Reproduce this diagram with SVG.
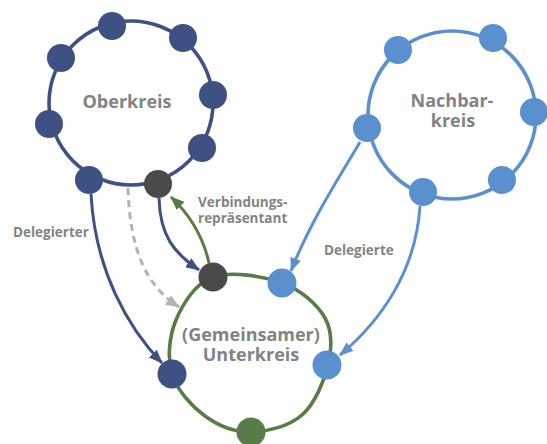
<svg xmlns="http://www.w3.org/2000/svg" width="547" height="444" viewBox="0 0 547 444">
  <style>
    .ring { fill: none; stroke-width: 3.6; stroke-linecap: round; }
    .navy { fill: #3e5183; }
    .dark { fill: #4a4a4a; }
    .light { fill: #5b90cf; }
    .green { fill: #587c48; }
    .title { font-family: "Open Sans", Lato, sans-serif; font-weight: 700; fill: #838383; text-anchor: middle; }
    .label { font-family: "Open Sans", Lato, sans-serif; font-weight: 700; fill: #838383; font-size: 13.5px; }
    .edge { fill: none; stroke-width: 3; }
  </style>
  <defs>
    <marker id="ahNavy" viewBox="0 0 14 11" refX="13" refY="5.5" markerWidth="14" markerHeight="11" markerUnits="userSpaceOnUse" orient="auto">
      <path d="M0,0 L14,5.5 L0,11 Z" fill="#3e5183"/>
    </marker>
    <marker id="ahGreen" viewBox="0 0 14 11" refX="13" refY="5.5" markerWidth="14" markerHeight="11" markerUnits="userSpaceOnUse" orient="auto">
      <path d="M0,0 L14,5.5 L0,11 Z" fill="#587c48"/>
    </marker>
    <marker id="ahLight" viewBox="0 0 14 11" refX="13" refY="5.5" markerWidth="14" markerHeight="11" markerUnits="userSpaceOnUse" orient="auto">
      <path d="M0,0 L14,5.5 L0,11 Z" fill="#5b90cf"/>
    </marker>
    <marker id="ahGray" viewBox="0 0 14 11" refX="13" refY="5.5" markerWidth="14" markerHeight="11" markerUnits="userSpaceOnUse" orient="auto">
      <path d="M0,0 L14,5.5 L0,11 Z" fill="#b3b3b3"/>
    </marker>
  </defs>

  <rect width="547" height="444" fill="#ffffff"/>

  <!-- circle rings -->
  <g id="rings">
    <circle class="ring" cx="131" cy="103" r="82" stroke="#3e5183"/>
    <circle class="ring" cx="452" cy="115" r="84" stroke="#5b90cf"/>
    <path class="ring" stroke="#587c48" d="M213,277 C230.7,270.8 263.3,276.2 282,283 C300.7,289.8 317.3,304.3 325,318 C332.7,331.7 331.8,348.8 328,365 C324.2,381.2 314.8,403.8 302,415 C289.2,426.2 267.2,431.8 251,432 C234.8,432.2 218.2,425.7 205,416 C191.8,406.3 176.8,390 172,374 C167.2,358 169.2,336.2 176,320 C182.8,303.8 195.3,283.2 213,277 Z"/>
  </g>

  <!-- connectors -->
  <g id="connectors">
    <path class="edge" stroke="#3e5183" d="M91,194 C95,270 128,328 162,363" marker-end="url(#ahNavy)"/>
    <path class="edge" stroke="#3e5183" d="M159,198 C160,236 174,253 199,270" marker-end="url(#ahNavy)"/>
    <path class="edge" stroke="#587c48" d="M209,263 C203,236 190,215 171,197" marker-end="url(#ahGreen)"/>
    <path class="edge" stroke="#b3b3b3" stroke-dasharray="7 5" d="M128,188 C130,250 146,286 179,307" marker-end="url(#ahGray)"/>
    <path class="edge" stroke="#5b90cf" d="M360,142 C340,176 310,222 291,271" marker-end="url(#ahLight)"/>
    <path class="edge" stroke="#5b90cf" d="M420,206 C416,270 382,320 340,355" marker-end="url(#ahLight)"/>
  </g>

  <!-- Oberkreis -->
  <g id="oberkreis">
    <circle class="navy" cx="112" cy="26" r="14"/>
    <circle class="navy" cx="183" cy="38" r="14"/>
    <circle class="navy" cx="61" cy="58" r="14"/>
    <circle class="navy" cx="213" cy="95" r="14"/>
    <circle class="navy" cx="49" cy="124" r="14"/>
    <circle class="navy" cx="202" cy="148" r="14"/>
    <circle class="navy" cx="89" cy="180" r="14"/>
    <text class="title" x="127" y="108" font-size="18">Oberkreis</text>
  </g>

  <!-- Verbindungsrepräsentant in Oberkreis -->
  <g id="rep-oben">
    <circle class="dark" cx="158" cy="184" r="14"/>
  </g>

  <!-- Nachbarkreis -->
  <g id="nachbarkreis">
    <circle class="light" cx="398" cy="50" r="14"/>
    <circle class="light" cx="493" cy="38" r="14"/>
    <circle class="light" cx="534" cy="112" r="14"/>
    <circle class="light" cx="367" cy="128" r="14"/>
    <circle class="light" cx="502" cy="180" r="14"/>
    <circle class="light" cx="423" cy="192" r="14"/>
    <text class="title" x="452" y="107" font-size="18">Nachbar-</text>
    <text class="title" x="453" y="127" font-size="18">kreis</text>
  </g>

  <!-- Gemeinsamer Unterkreis -->
  <g id="unterkreis">
    <circle class="dark" cx="213" cy="277" r="14.5"/>
    <circle class="light" cx="282" cy="283" r="14.5"/>
    <circle class="light" cx="327" cy="365" r="14.5"/>
    <circle class="green" cx="251" cy="432" r="14.5"/>
    <circle class="navy" cx="172" cy="374" r="14.5"/>
    <text class="title" x="251" y="341" font-size="18">(Gemeinsamer)</text>
    <text class="title" x="251" y="361" font-size="18">Unterkreis</text>
  </g>

  <!-- edge labels -->
  <g id="labels">
    <text class="label" x="13" y="237">Delegierter</text>
    <text class="label" x="198" y="207">Verbindungs-</text>
    <text class="label" x="198" y="223">repräsentant</text>
    <text class="label" x="324" y="255">Delegierte</text>
  </g>
</svg>
